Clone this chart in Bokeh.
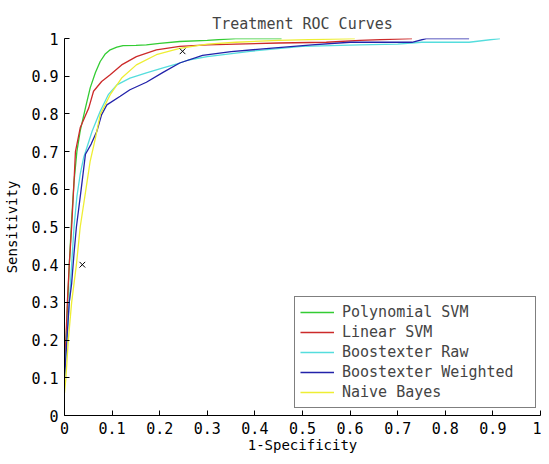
from bokeh.plotting import figure
from bokeh.models import Range1d, FixedTicker, CustomJSTickFormatter, Legend, LegendItem
from bokeh.embed import file_html
from bokeh.resources import INLINE

# ---- data ----
poly_fpr = [0, 0.005, 0.01, 0.015, 0.02, 0.026, 0.033, 0.044, 0.054, 0.065, 0.075, 0.085,
            0.096, 0.11, 0.123, 0.15, 0.172, 0.2, 0.242, 0.3, 0.36, 0.456]
poly_tpr = [0.1, 0.25, 0.4, 0.52, 0.62, 0.70, 0.755, 0.816, 0.869, 0.91, 0.939, 0.958,
            0.970, 0.977, 0.981, 0.982, 0.983, 0.987, 0.992, 0.995, 1.0, 1.0]

lin_fpr = [0, 0.003, 0.006, 0.01, 0.015, 0.02, 0.023, 0.033, 0.042, 0.051, 0.061, 0.078,
           0.096, 0.12, 0.151, 0.193, 0.242, 0.3, 0.36, 0.45, 0.55, 0.62, 0.73]
lin_tpr = [0.12, 0.2, 0.3, 0.4, 0.5, 0.62, 0.70, 0.763, 0.79, 0.816, 0.860, 0.886,
           0.904, 0.930, 0.952, 0.970, 0.979, 0.983, 0.985, 0.988, 0.99, 0.995, 1.0]

raw_fpr = [0, 0.005, 0.01, 0.015, 0.02, 0.026, 0.033, 0.04, 0.058, 0.075, 0.092, 0.11,
           0.1375, 0.172, 0.207, 0.242, 0.26, 0.3, 0.39, 0.5, 0.62, 0.7, 0.75, 0.85, 0.915]
raw_tpr = [0.1, 0.2, 0.3, 0.4, 0.5, 0.58, 0.64, 0.683, 0.754, 0.807, 0.851, 0.877,
           0.895, 0.909, 0.922, 0.935, 0.943, 0.952, 0.966, 0.979, 0.983, 0.985, 0.99, 0.99, 1.0]

wtd_fpr = [0, 0.005, 0.01, 0.015, 0.02, 0.025, 0.035, 0.044, 0.056, 0.068, 0.078, 0.089,
           0.117, 0.1375, 0.172, 0.207, 0.242, 0.29, 0.35, 0.43, 0.52, 0.6, 0.73, 0.76, 0.85]
wtd_tpr = [0.1, 0.2, 0.3, 0.35, 0.43, 0.5, 0.6, 0.693, 0.72, 0.754, 0.798, 0.824,
           0.847, 0.864, 0.884, 0.910, 0.935, 0.955, 0.965, 0.974, 0.983, 0.99, 0.99, 1.0, 1.0]

nb_fpr = [0, 0.003, 0.008, 0.015, 0.025, 0.033, 0.045, 0.054, 0.065, 0.075, 0.096, 0.12,
          0.151, 0.193, 0.242, 0.3, 0.36, 0.45, 0.61]
nb_tpr = [0.06, 0.1, 0.2, 0.3, 0.4, 0.5, 0.6, 0.675, 0.736, 0.798, 0.851, 0.895,
          0.930, 0.957, 0.974, 0.985, 0.99, 0.995, 1.0]

mark_fpr = [0.0375, 0.248]
mark_tpr = [0.40, 0.966]

series_names = ["Polynomial SVM", "Linear SVM", "Boostexter Raw", "Boostexter Weighted", "Naive Bayes"]
series_colors = ["#33cc33", "#cc2a2a", "#55dddd", "#2222aa", "#eeee33"]

tick_vals = [0, 0.1, 0.2, 0.3, 0.4, 0.5, 0.6, 0.7, 0.8, 0.9, 1]

FONT = "DejaVu Sans Mono"

p = figure(width=541, height=456, output_backend="svg", toolbar_location=None,
           x_range=Range1d(0, 1), y_range=Range1d(0, 1),
           min_border_left=64, min_border_right=1, min_border_top=38, min_border_bottom=41,
           title="Treatment ROC Curves")
p.outline_line_color = None
p.grid.visible = False
p.title.align = "center"
p.title.vertical_align = "top"
p.title.text_font = FONT
p.title.text_font_size = "15px"
p.title.text_font_style = "normal"
p.title.offset = 0
p.title.standoff = 8

fmt = CustomJSTickFormatter(code="return tick.toFixed(1).replace(/\\.0$/, '');")
for ax in (p.xaxis[0], p.yaxis[0]):
    ax.ticker = FixedTicker(ticks=tick_vals)
    ax.formatter = fmt
    ax.major_tick_in = 5
    ax.major_tick_out = 0
    ax.minor_tick_line_color = None
    ax.axis_line_color = "black"
    ax.major_tick_line_color = "black"
    ax.major_label_text_font = FONT
    ax.major_label_text_font_size = "15px"
    ax.major_label_text_color = "black"
    ax.axis_label_text_font = FONT
    ax.axis_label_text_font_size = "14px"
    ax.axis_label_text_font_style = "normal"
    ax.axis_label_text_color = "black"
    ax.major_label_standoff = 6
    ax.axis_label_standoff = 0
p.yaxis.axis_label_standoff = 8
p.xaxis.axis_label = "1-Specificity"
p.yaxis.axis_label = "Sensitivity"

xs = [poly_fpr, lin_fpr, raw_fpr, wtd_fpr, nb_fpr]
ys = [poly_tpr, lin_tpr, raw_tpr, wtd_tpr, nb_tpr]
items = []
for x, y, c, n in zip(xs, ys, series_colors, series_names):
    r = p.line(x, y, line_color=c, line_width=1.3)
    items.append(LegendItem(label=n, renderers=[r]))

p.scatter(mark_fpr, mark_tpr, marker="x", size=8, line_color="black", line_width=1)

legend = Legend(items=items, location=(230, 7))
legend.label_text_font = FONT
legend.label_text_font_size = "15px"
legend.label_height = 20
legend.glyph_height = 20
legend.glyph_width = 34
legend.label_width = 188
legend.label_standoff = 8
legend.padding = 5
legend.spacing = 0
legend.margin = 0
legend.border_line_color = "black"
legend.border_line_width = 1
legend.background_fill_alpha = 1
p.add_layout(legend, "center")

open("out.html", "w").write(file_html(p, INLINE))
